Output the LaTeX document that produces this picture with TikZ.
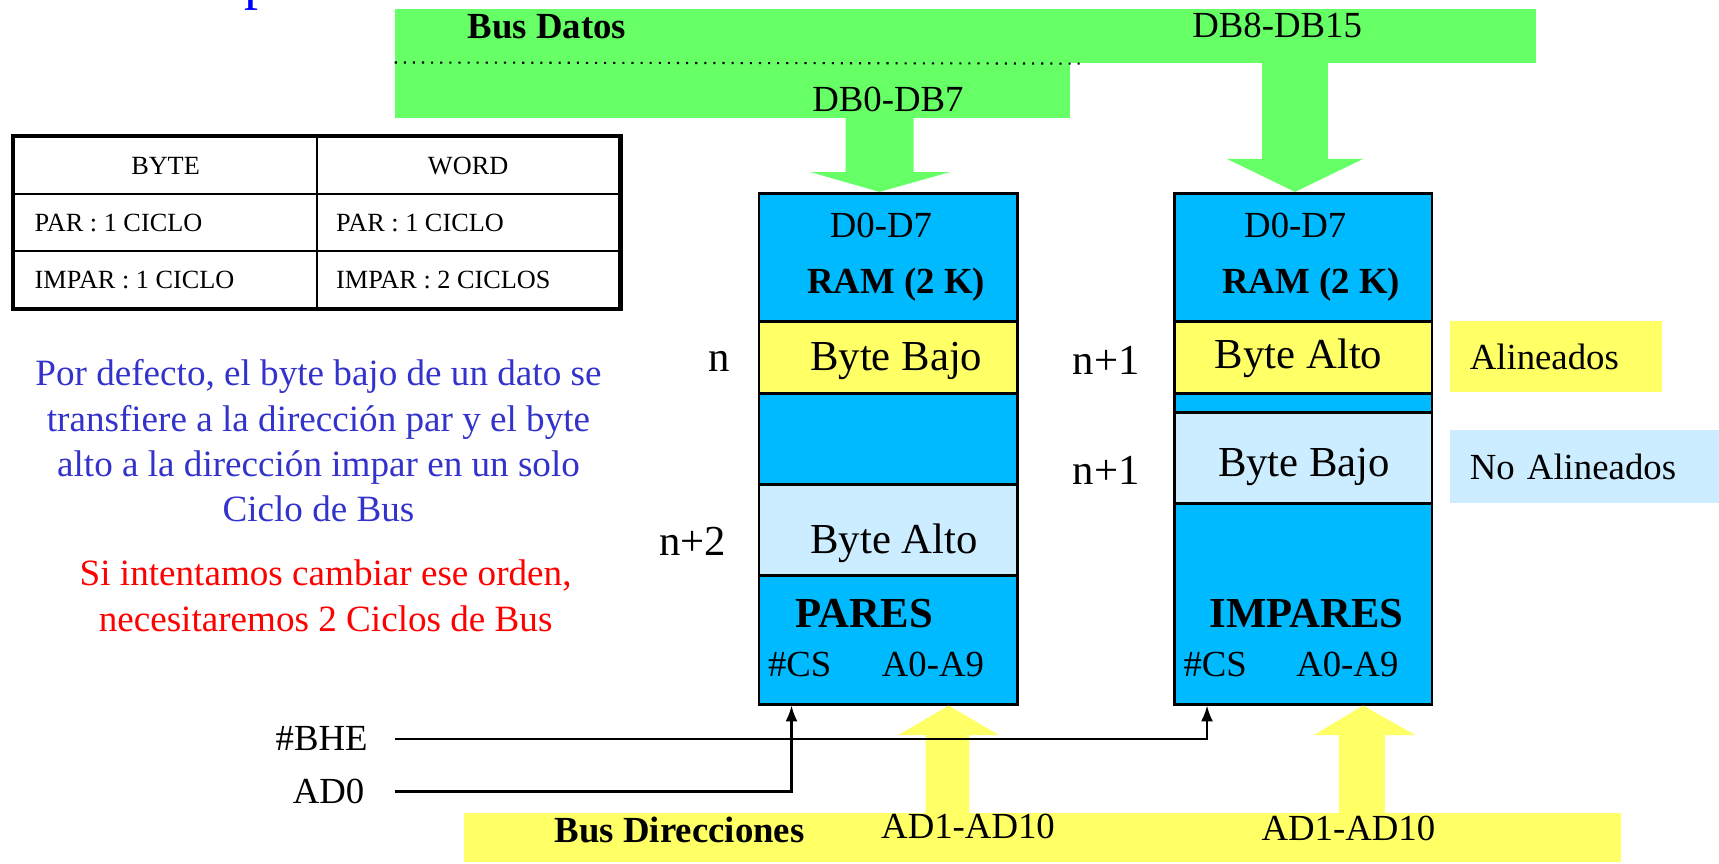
\documentclass[tikz,border=0pt]{standalone}
\usepackage{fontspec}
\setmainfont{Liberation Serif}
\usepackage[usenames,dvipsnames,x11names,rgb]{xcolor}
\usetikzlibrary{calc,positioning,arrows.meta}

\definecolor{busgreen}{RGB}{102,255,102}
\definecolor{busyellow}{RGB}{255,255,102}
\definecolor{ramblue}{RGB}{0,186,255}
\definecolor{paleblue}{RGB}{204,236,255}
\definecolor{notablue}{RGB}{51,51,204}

\newcommand{\txtA}{\fontsize{10.5}{12.6}\selectfont}
\newcommand{\txtB}{\fontsize{12.2}{14.6}\selectfont}
\newcommand{\txtC}{\fontsize{10.6}{12.9}\selectfont}
\newcommand{\txtT}{\fontsize{7.5}{9}\selectfont}
\def\pxu{0.011cm}

\begin{document}
\begin{tikzpicture}[x=0.011cm, y=-0.011cm,
        txt/.style={inner sep=0pt, font=\txtA},
        bigtxt/.style={inner sep=0pt, font=\txtB},
        boldtxt/.style={inner sep=0pt, font=\txtA\bfseries},
        tbltxt/.style={inner sep=0pt, font=\txtT},
        bar/.style={inner sep=0pt, anchor=north west},
        ram/.style={draw, line width=0.8pt, fill=ramblue, inner sep=0pt, anchor=north west},
        cell/.style={draw, line width=0.8pt, inner sep=0pt, anchor=north west},
        sig/.style={line width=0.6pt, -{Latex[length=4.5pt, width=3.4pt]}}]
        \useasboundingbox (0,0) rectangle (1568,788);

        \node[anchor=base west, inner sep=0pt, text=blue, font=\fontsize{16}{19}\selectfont] (ttl) at (222,-1) {p};

        \node[bar, fill=busgreen, minimum width=1040*\pxu, minimum height=49*\pxu] (dhi) at (360,8) {};
        \node[bar, fill=busgreen, minimum width=615*\pxu, minimum height=50*\pxu] (dlo) at (360,57) {};
        \draw[dotted, line width=0.6pt] (dlo.north west) -- ++(628,1);
        \node[boldtxt] (datos) at (499,24) {Bus Datos};
        \node[txt] (dbhi) at (1165,23) {DB8-DB15};
        \node[txt] (dblo) at (810,91) {DB0-DB7};

        \node[ram, minimum width=236*\pxu, minimum height=466*\pxu] (ramP) at (691,175) {};
        \node[ram, minimum width=235*\pxu, minimum height=466*\pxu] (ramI) at (1070,175) {};

        \fill[busgreen] ($(ramP.north)+(-8,0)$) -- ++(64,-18) -- ++(-33,0) -- ++(0,-50) -- ++(-62,0) -- ++(0,50) -- ++(-32,0) -- cycle;
        \fill[busgreen] ($(ramI.north)+(-7.5,0)$) -- ++(62,-30) -- ++(-32,0) -- ++(0,-88) -- ++(-60,0) -- ++(0,88) -- ++(-32,0) -- cycle;

        \node[cell, fill=busyellow, minimum width=236*\pxu, minimum height=66*\pxu] (loP) at (691,292) {};
        \node[cell, fill=paleblue, minimum width=236*\pxu, minimum height=83*\pxu] (hiP) at (691,441) {};
        \node[cell, fill=busyellow, minimum width=235*\pxu, minimum height=66*\pxu] (hiI) at (1070,292) {};
        \node[cell, fill=paleblue, minimum width=235*\pxu, minimum height=83*\pxu] (loI) at (1070,375) {};

        \node[txt] (dP) at (803.5,206) {D0-D7};
        \node[boldtxt] (ramtP) at (817.5,260) {RAM (2 K)};
        \node[bigtxt] (bajoP) at (817.5,329) {Byte Bajo};
        \node[bigtxt] (altoP) at (815.5,496) {Byte Alto};
        \node[bigtxt, font=\txtB\bfseries] (pares) at (788.5,560) {PARES};
        \node[txt] (csPt) at (729.5,606) {\#CS};
        \node[txt] (aP) at (851,606) {A0-A9};

        \node[txt] (dI) at (1181.5,206) {D0-D7};
        \node[boldtxt] (ramtI) at (1196,260) {RAM (2 K)};
        \node[bigtxt] (altoI) at (1184.5,327) {Byte Alto};
        \node[bigtxt] (bajoI) at (1189.5,426) {Byte Bajo};
        \node[bigtxt, font=\txtB\bfseries] (impares) at (1192,560) {IMPARES};
        \node[txt] (csIt) at (1108.5,606) {\#CS};
        \node[txt] (aI) at (1229,606) {A0-A9};

        \node[bigtxt] (dirn) at (656,330) {n};
        \node[bigtxt] (dirn2) at (632,494) {n+2};
        \node[bigtxt] (dirn1a) at (1009,329) {n+1};
        \node[bigtxt] (dirn1b) at (1009,429) {n+1};

        \node[bar, fill=busyellow, minimum width=193*\pxu, minimum height=65*\pxu, font=\txtA, inner xsep=0.198cm, text width=1.727cm, align=left] (alin) at (1322,292) {Alineados};
        \node[bar, fill=paleblue, minimum width=246*\pxu, minimum height=66*\pxu, font=\txtA, inner xsep=0.198cm, text width=2.31cm, align=left] (noalin) at (1322,392) {No Alineados};

        \draw[line width=1.3pt] (12,124) rectangle (566,282);
        \draw[line width=0.6pt] (289,124) -- (289,282) (12,177) -- (566,177) (12,229) -- (566,229);
        \node[tbltxt] (byte) at (151,151) {BYTE};
        \node[tbltxt] (word) at (427,151) {WORD};
        \node[tbltxt, anchor=west] (parb) at (31,203) {PAR : 1 CICLO};
        \node[tbltxt, anchor=west] (parw) at (306,203) {PAR : 1 CICLO};
        \node[tbltxt, anchor=west] (imparb) at (31,255) {IMPAR : 1 CICLO};
        \node[tbltxt, anchor=west] (imparw) at (306,255) {IMPAR : 2 CICLOS};

        \node[inner sep=0pt, align=center, text=notablue, font=\txtC] (nota) at (290.5,402) {Por defecto, el byte bajo de un dato se\\transfiere a la dirección par y el byte\\alto a la dirección impar en un solo\\Ciclo de Bus};
        \node[inner sep=0pt, align=center, text=red, font=\txtC] (aviso) at (297,543.5) {Si intentamos cambiar ese orden,\\necesitaremos 2 Ciclos de Bus};

        \fill[busyellow] ($(ramP.south)+(55,0)$) -- ++(46,27) -- ++(-27,0) -- ++(0,73) -- ++(-40,0) -- ++(0,-73) -- ++(-25,0) -- cycle;
        \fill[busyellow] ($(ramI.south)+(54.5,0)$) -- ++(48,27) -- ++(-28,0) -- ++(0,73) -- ++(-42,0) -- ++(0,-73) -- ++(-23,0) -- cycle;
        \node[bar, fill=busyellow, minimum width=1055*\pxu, minimum height=45*\pxu] (busdir) at (423,741) {};
        \node[boldtxt] (dirs) at (620,757) {Bus Direcciones};
        \node[txt] (adP) at (883,754) {AD1-AD10};
        \node[txt] (adI) at (1230,756) {AD1-AD10};

        \node[txt, anchor=east] (bhe) at (336,674) {\#BHE};
        \node[txt, anchor=east] (adz) at (333,722) {AD0};
        \coordinate (csP) at ($(ramP.south west)+(31,0)$);
        \coordinate (csI) at ($(ramI.south west)+(31,0)$);
        \draw[sig, shorten <=24*\pxu] (bhe.east) -| (csI);
        \draw[sig, shorten <=27*\pxu] (adz.east) -| (csP);
    \end{tikzpicture}
\end{document}
